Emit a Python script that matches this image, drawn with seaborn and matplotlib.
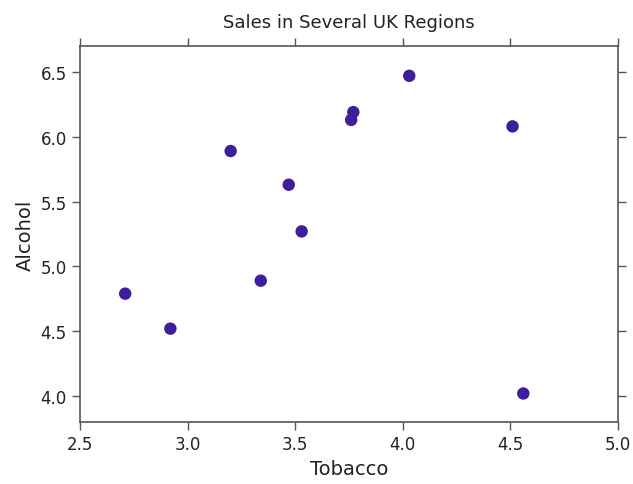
import numpy as np
import pandas as pd
import matplotlib
matplotlib.use("Agg")
import matplotlib.pyplot as plt
import seaborn as sns

regions = ["North", "Yorkshire", "Northeast", "East Midlands", "West Midlands",
           "East Anglia", "Southeast", "Southwest", "Wales", "Scotland",
           "Northern Ireland"]
alcohol = [6.47, 6.13, 6.19, 4.89, 5.63, 4.52, 5.89, 4.79, 5.27, 6.08, 4.02]
tobacco = [4.03, 3.76, 3.77, 3.34, 3.47, 2.92, 3.20, 2.71, 3.53, 4.51, 4.56]

df = pd.DataFrame({"Region": regions, "Alcohol": alcohol, "Tobacco": tobacco})

sns.set_style("white")
plt.rcParams["font.family"] = ["DejaVu Sans"]

fig = plt.figure(figsize=(6.33, 4.85), dpi=100)
ax = fig.add_axes([80 / 633, 1 - 423 / 485, 538 / 633, 376 / 485])
sns.scatterplot(data=df, x="Tobacco", y="Alcohol", ax=ax, color="#3f1d9b",
                s=80, edgecolor="none")
ax.set_xlim(2.5, 5.0)
ax.set_ylim(3.8, 6.7)
ax.set_xticks([2.5, 3.0, 3.5, 4.0, 4.5, 5.0])
ax.set_yticks([4.0, 4.5, 5.0, 5.5, 6.0, 6.5])
ax.tick_params(direction="out", length=6, width=1, colors="#555555",
               labelcolor="#222222", labelsize=12,
               top=True, right=True, bottom=True, left=True)
for sp in ax.spines.values():
    sp.set_color("#555555")
    sp.set_linewidth(1.2)
ax.set_xlabel("Tobacco", fontsize=14, color="#222222")
ax.set_ylabel("Alcohol", fontsize=14, color="#222222")
ax.set_title("Sales in Several UK Regions", fontsize=13, color="#222222", pad=14)
fig.savefig("out.png", dpi=100)
